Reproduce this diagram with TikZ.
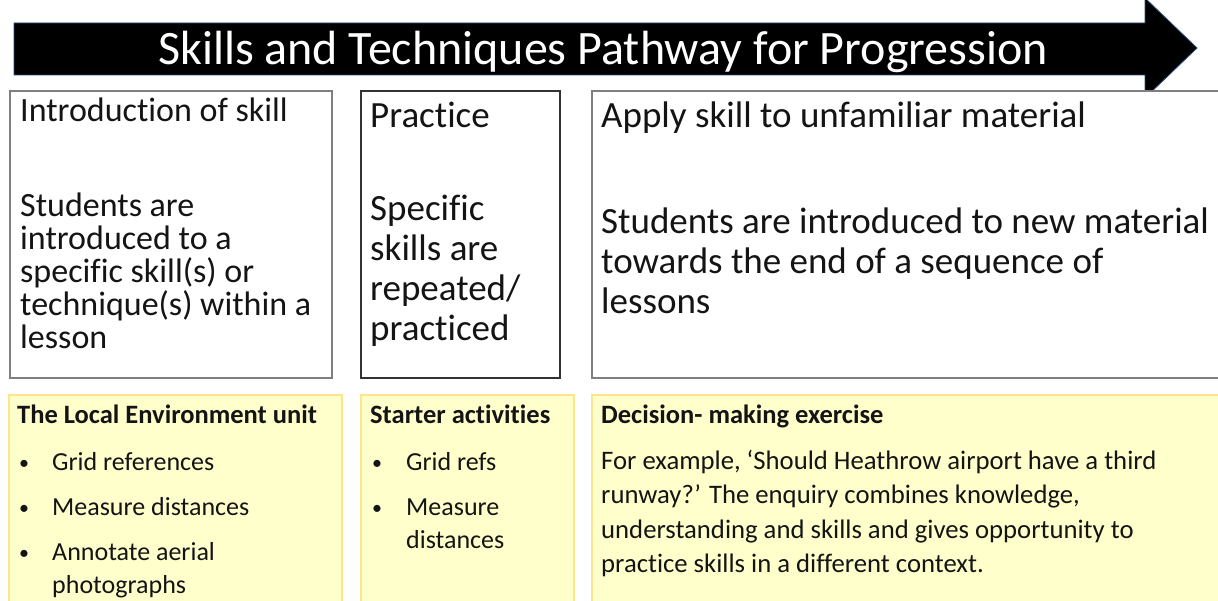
\documentclass[tikz,border=0pt]{standalone}
\usepackage{fontspec}
\setmainfont{Carlito}[Ligatures=NoCommon]
\usepackage{xcolor}
\usetikzlibrary{positioning}

\definecolor{notefill}{HTML}{FFFFCC}
\definecolor{noteline}{HTML}{FFE48F}
\definecolor{stageline}{HTML}{7F7F7F}
\definecolor{arrowedge}{HTML}{2E4A7A}

\newcommand{\setfs}[2]{\fontsize{#1}{#2}\selectfont}
% lines stacked from the first baseline down, rows ended by \cr
\newcommand{\txtlines}[1]{\vtop{\lineskiplimit=-\maxdimen\halign{##\hfil\cr#1\crcr}}}

\tikzset{
  stagebox/.style={draw=stageline, line width=1.6pt, fill=white, rectangle, anchor=north west, inner sep=0pt},
  notebox/.style={draw=noteline, line width=1.6pt, fill=notefill, rectangle, anchor=north west, inner sep=0pt},
  txt/.style={anchor=base west, inner sep=0pt, text=black!92},
  headtxt/.style={txt, font=\setfs{26.5}{33}\bfseries},
  itemtxt/.style={txt, font=\setfs{26}{33.5}},
  dottxt/.style={txt, font=\setfs{20}{33}}
}

\begin{document}
\begin{tikzpicture}[x=1pt, y=-1pt]
  \useasboundingbox (0,0) rectangle (1218,601);

  % the big arrow across the top
  \fill[black, draw=arrowedge, line width=0.8pt]
    (14,23) -- (1145,23) -- (1145,-2) -- (1197,48) -- (1145,98) -- (1145,75) -- (14,75) -- cycle;
  \node[anchor=base, inner sep=0pt, text=white, font=\setfs{48}{50}] (pathway) at (603,65)
    {Skills and Techniques Pathway for Progression};

  % Stage 1
  \node[stagebox, minimum width=322, minimum height=287] (intro) at (9,90) {};
  \node[txt, font=\setfs{34}{33}] (introtitle) at (20,122) {Introduction of skill};
  \node[txt, font=\setfs{34}{33}] (introbody) at (20,217)
    {\txtlines{Students are\cr introduced to a\cr specific skill(s) or\cr technique(s) within a\cr lesson}};

  % Stage 2
  \node[stagebox, draw=black!80, minimum width=199, minimum height=287] (practice) at (360,90) {};
  \node[txt, font=\setfs{37}{40}] (practicetitle) at (370,128) {Practice};
  \node[txt, font=\setfs{37}{40}] (practicebody) at (370,221)
    {\txtlines{Specific\cr skills are\cr repeated/\cr practiced}};

  % Stage 3
  \node[stagebox, minimum width=640, minimum height=287] (apply) at (591,90) {};
  \node[txt, font=\setfs{37}{40}] (applytitle) at (601,128) {Apply skill to unfamiliar material};
  \node[txt, font=\setfs{37}{40}] (applybody) at (601,234)
    {\txtlines{Students are introduced to new material\cr towards the end of a sequence of\cr lessons}};

  % Example A
  \node[notebox, minimum width=333, minimum height=230] (local) at (8,394) {};
  \node[headtxt] (localhead) at (17,423) {The Local Environment unit};
  \node[dottxt] (localdotA) at (19,469) {•};
  \node[itemtxt] (localA) at (52,470) {Grid references};
  \node[dottxt] (localdotB) at (19,514) {•};
  \node[itemtxt] (localB) at (52,515) {Measure distances};
  \node[dottxt] (localdotC) at (19,559) {•};
  \node[itemtxt] (localC) at (52,560) {\txtlines{Annotate aerial\cr photographs}};

  % Example B
  \node[notebox, minimum width=213, minimum height=230] (starter) at (360,394) {};
  \node[headtxt] (starterhead) at (370,423) {Starter activities};
  \node[dottxt] (starterdotA) at (372,469) {•};
  \node[itemtxt] (starterA) at (406,470) {Grid refs};
  \node[dottxt] (starterdotB) at (372,514) {•};
  \node[itemtxt] (starterB) at (406,515) {\txtlines{Measure\cr distances}};

  % Example C
  \node[notebox, minimum width=640, minimum height=230] (decision) at (591,394) {};
  \node[headtxt] (decisionhead) at (601,423) {Decision- making exercise};
  \node[txt, font=\setfs{26.7}{34.5}] (decisionbody) at (601,469)
    {\txtlines{For example, ‘Should Heathrow airport have a third\cr runway?’ The enquiry combines knowledge,\cr understanding and skills and gives opportunity to\cr practice skills in a different context.}};
\end{tikzpicture}
\end{document}
